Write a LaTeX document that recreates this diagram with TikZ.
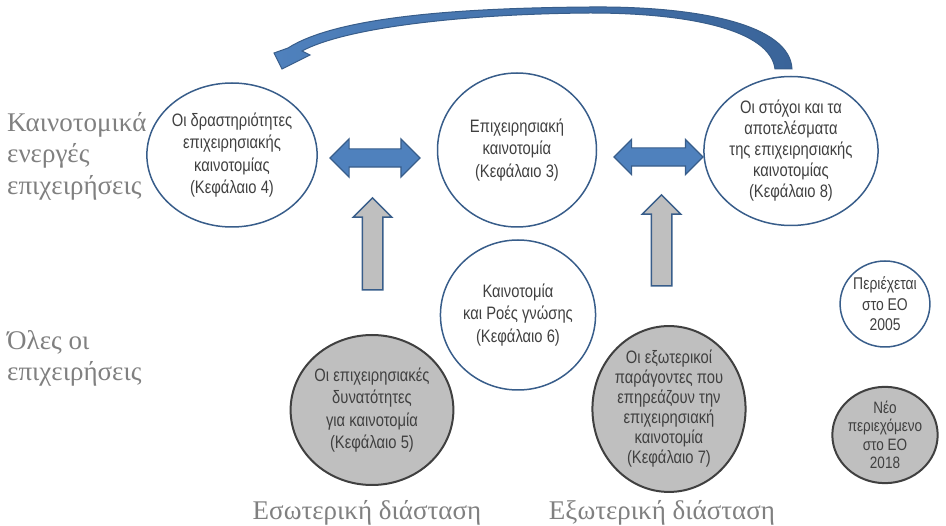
\documentclass[tikz,border=0pt]{standalone}
\usepackage{fontspec}
\setmainfont{Liberation Serif}
\newfontfamily\narrowsans[FakeStretch=0.82]{Liberation Sans}
\usetikzlibrary{shapes.geometric,shapes.arrows}
\definecolor{ringblue}{HTML}{385D8A}
\definecolor{fillblue}{HTML}{4F81BD}
\definecolor{tailblue}{HTML}{3A6499}
\definecolor{fillgray}{HTML}{BFBFBF}
\definecolor{ringgray}{HTML}{404040}
\definecolor{labelgray}{HTML}{808080}

\begin{document}
\begin{tikzpicture}[x=1pt,y=-1pt,
    topic/.style={ellipse, draw=ringblue, line width=1.5pt, inner sep=0pt, align=center,
      text=ringgray, font=\narrowsans\fontsize{18}{22.5}\selectfont},
    newtopic/.style={topic, draw=ringgray, line width=2pt, fill=fillgray},
    sidelabel/.style={text=labelgray, font=\fontsize{27}{31.5}\selectfont},
    linkarrow/.style={double arrow, draw=ringblue, fill=fillblue, line width=1.2pt},
    feedarrow/.style={single arrow, draw=ringblue, fill=fillgray, line width=1.5pt,
      shape border rotate=90}]
  \useasboundingbox (0,0) rectangle (946,526);

  % circles
  \node[topic, minimum width=149pt, minimum height=144pt] (4) at (232,155)
    {Οι δραστηριότητες\\επιχειρησιακής\\καινοτομίας\\(Κεφάλαιο 4)};
  \node[topic, minimum width=159pt, minimum height=154pt] (3) at (517,150)
    {Επιχειρησιακή\\καινοτομία\\(Κεφάλαιο 3)};
  \node[topic, minimum width=150pt, minimum height=149pt, font=\narrowsans\fontsize{18}{21}\selectfont] (8) at (791,151)
    {Οι στόχοι και τα\\αποτελέσματα\\της επιχειρησιακής\\καινοτομίας\\(Κεφάλαιο 8)};
  \node[topic, minimum width=150pt, minimum height=150pt] (6) at (518,315)
    {Καινοτομία\\και Ροές γνώσης\\(Κεφάλαιο 6)};
  \node[newtopic, minimum width=151pt, minimum height=150pt] (5) at (372,410)
    {Οι επιχειρησιακές\\δυνατότητες\\για καινοτομία\\(Κεφάλαιο 5)};
  \node[newtopic, minimum width=152pt, minimum height=151pt, font=\narrowsans\fontsize{18}{20}\selectfont] (7) at (669,409)
    {Οι εξωτερικοί\\παράγοντες που\\επηρεάζουν την\\επιχειρησιακή\\καινοτομία\\(Κεφάλαιο 7)};

  % legend
  \node[topic, minimum width=62pt, minimum height=86pt, font=\narrowsans\fontsize{17}{20.5}\selectfont] (old) at (885,304)
    {Περιέχεται\\στο ΕΟ\\2005};
  \node[newtopic, minimum width=61pt, minimum height=86pt, font=\narrowsans\fontsize{16.5}{18.5}\selectfont] (new) at (885,435)
    {Νέο\\περιεχόμενο\\στο ΕΟ\\2018};

  % side texts
  \node[sidelabel, align=left, anchor=north west, inner sep=0pt] (active) at (7,112)
    {Καινοτομικά\\ενεργές\\επιχειρήσεις};
  \node[sidelabel, align=left, anchor=north west, inner sep=0pt] (all) at (7,330)
    {Όλες οι\\επιχειρήσεις};
  \node[sidelabel] (inner) at (367,513) {Εσωτερική διάσταση};
  \node[sidelabel] (outer) at (662,513) {Εξωτερική διάσταση};

  % block arrows
  \node[linkarrow, inner sep=8.5pt, minimum height=90pt, minimum width=37pt, double arrow head extend=10pt] (a43) at (375,158) {};
  \node[linkarrow, inner sep=8.5pt, minimum height=89pt, minimum width=34pt, double arrow head extend=8.5pt] (a38) at (658.5,157) {};
  \node[feedarrow, inner sep=9.5pt, minimum height=92pt, minimum width=37pt, single arrow head extend=9pt] (a5) at (372.5,249) {};
  \node[feedarrow, inner sep=9.5pt, minimum height=91pt, minimum width=37pt, single arrow head extend=9pt] (a7) at (661.5,245.5) {};

  % curved arrow from 8 back to 4
  \draw[draw=ringblue, left color=fillblue, right color=tailblue, line width=1pt, line join=miter]
    (792,69) .. controls (790,25) and (700,6) .. (590,7)
    .. controls (450,8) and (335,18) .. (288,48)
    -- (274,53) -- (282,69) -- (310,55) -- (302,51)
    .. controls (345,28) and (460,14) .. (590,13)
    .. controls (690,13) and (770,30) .. (775,69) -- cycle;
\end{tikzpicture}
\end{document}
